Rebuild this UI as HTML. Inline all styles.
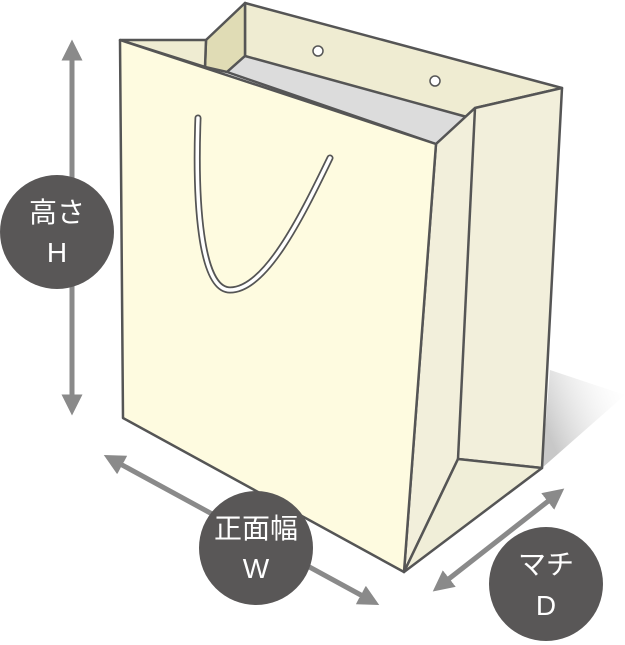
<!DOCTYPE html>
<html><head><meta charset="utf-8"><style>
html,body{margin:0;padding:0;background:#fff;width:625px;height:645px;overflow:hidden}
svg{display:block}
text{font-family:"Liberation Sans","Noto Sans CJK JP",sans-serif;fill:#fff;font-size:28px;text-anchor:middle}
</style></head><body>
<svg width="625" height="645" viewBox="0 0 625 645">
<defs>
<linearGradient id="sh" x1="0" y1="0.5" x2="1" y2="0">
<stop offset="0" stop-color="#c8c8c8"/><stop offset="1" stop-color="#fff" stop-opacity="0"/>
</linearGradient>
<marker id="ah" viewBox="0 0 10 10" refX="5" refY="5" markerWidth="4.2" markerHeight="4.2" orient="auto-start-reverse">
<path d="M0,0 L10,5 L0,10 Z" fill="#8a8a8a"/></marker>
</defs>
<polygon points="542,468 550,370 625,395" fill="url(#sh)"/>
<g stroke="#555" stroke-width="2.5" stroke-linejoin="round">
<polygon points="245,3 562,88 475,108 436,144 245,56" fill="#efecd2"/>
<polygon points="206,40 245,3 245,56 227,72 205,67" fill="#e0dcb5"/>
<polygon points="120,40 206,40 205,67" fill="#efecd2"/>
<polygon points="227,72 245,56 467,117 436,144" fill="#dcdcdc"/>
<polygon points="436,144 475,108 562,88 542,468 458,459 404,572" fill="#f2efdb"/>
<polyline points="475,108 458,459" fill="none"/>
<polygon points="404,572 458,459 542,468" fill="#f0eed8"/>
<polygon points="120,40 436,144 404,572 123,418" fill="#fefbe0"/>
</g>
<g fill="#fff" stroke="#555" stroke-width="1.5">
<circle cx="318" cy="51" r="5"/><circle cx="435" cy="81" r="5"/>
</g>
<path d="M198,118 C195,200 200,290 230,290 C265,290 300,220 330,158" fill="none" stroke="#555" stroke-width="7" stroke-linecap="round"/>
<path d="M198,118 C195,200 200,290 230,290 C265,290 300,220 330,158" fill="none" stroke="#fff" stroke-width="3.5" stroke-linecap="round"/>
<g stroke="#8a8a8a" stroke-width="5" marker-start="url(#ah)" marker-end="url(#ah)">
<line x1="72" y1="50" x2="72" y2="405"/>
<line x1="113" y1="460" x2="370" y2="600"/>
<line x1="556" y1="495" x2="441" y2="585"/>
</g>
<circle cx="57" cy="232" r="57" fill="#595757"/>
<text x="57" y="222">高さ</text><text x="57" y="262">H</text>
<circle cx="256" cy="548" r="57" fill="#595757"/>
<text x="256" y="538">正面幅</text><text x="256" y="578">W</text>
<circle cx="546" cy="584" r="57" fill="#595757"/>
<text x="546" y="574">マチ</text><text x="546" y="615">D</text>
</svg>
</body></html>
